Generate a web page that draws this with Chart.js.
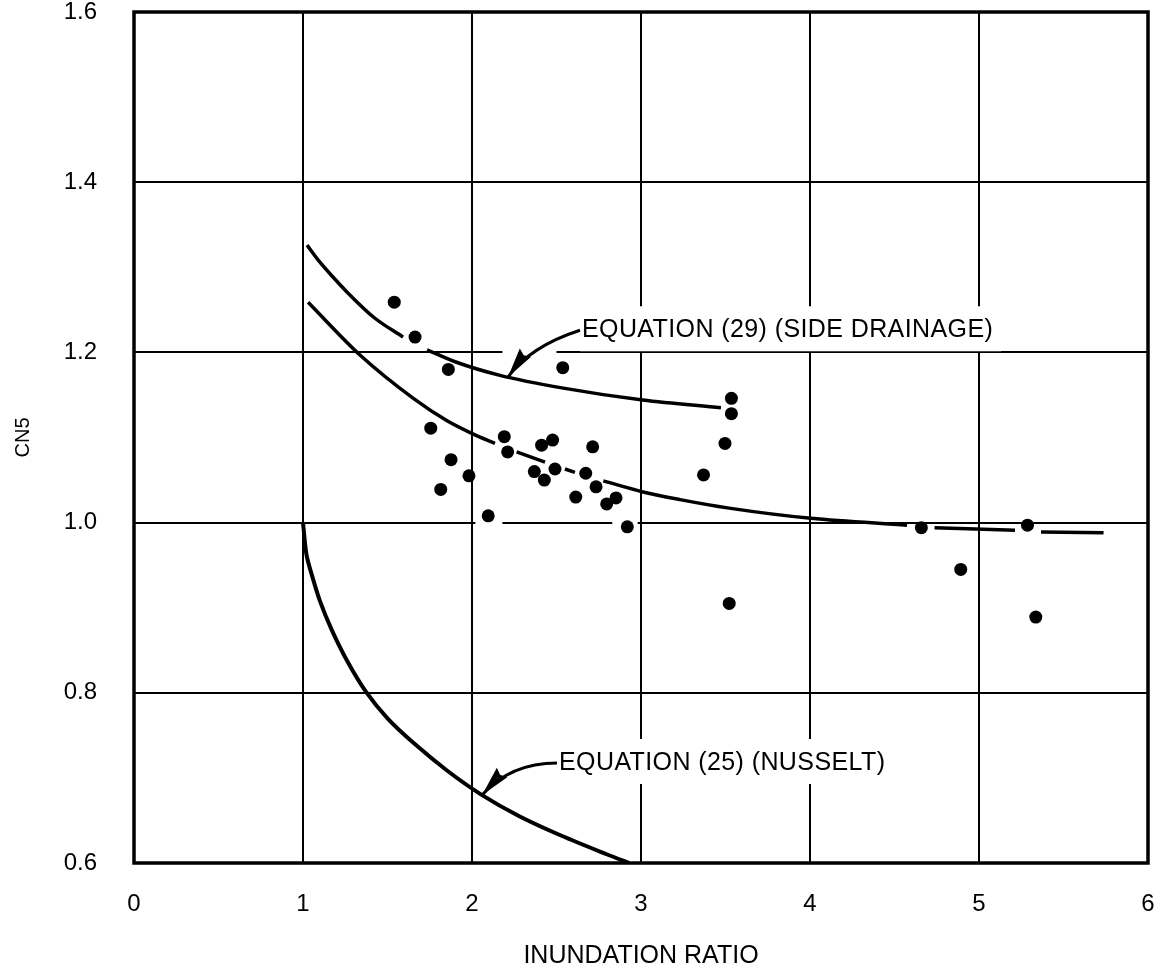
<!DOCTYPE html>
<html>
<head>
<meta charset="utf-8">
<title>CN5 vs inundation ratio</title>
<script src="https://cdn.jsdelivr.net/npm/chart.js@4.4.1/dist/chart.umd.min.js"></script>
<style>
  html, body { margin: 0; padding: 0; background: #fff; }
  #wrap { width: 1157px; height: 972px; }
</style>
</head>
<body>
<div id="wrap"><canvas id="cnChart" width="1157" height="972"></canvas></div>
<script>
// axis ticks
const xTicks = [0, 1, 2, 3, 4, 5, 6];
const yTicks = [0.6, 0.8, 1.0, 1.2, 1.4, 1.6];

// measured data points
const pointX = [1.540, 1.663, 1.860, 2.537, 1.756, 2.191, 2.211, 2.412, 2.477, 2.714, 1.876,
  1.982, 1.815, 2.096, 2.369, 2.428, 2.491, 2.673, 2.734, 2.614, 2.852, 2.797, 2.919,
  3.535, 3.535, 3.497, 3.370, 3.522, 4.659, 5.287, 4.892, 5.336];
const pointY = [1.259, 1.218, 1.180, 1.182, 1.111, 1.101, 1.083, 1.091, 1.097, 1.089, 1.074,
  1.055, 1.039, 1.008, 1.060, 1.050, 1.063, 1.058, 1.042, 1.030, 1.029, 1.022, 0.995,
  1.146, 1.128, 1.093, 1.056, 0.905, 0.994, 0.997, 0.945, 0.889];

// equation (29), side drainage (null = break in the drawn line)
const sideX = [1.024, 1.10, 1.18, 1.26, 1.42, 1.592, 1.66, 1.734, 1.90, 2.166, 2.54, 3.01, 3.473];
const sideY = [1.326, 1.306, 1.288, 1.271, 1.241, 1.218, null, 1.203, 1.189, 1.173, 1.158, 1.144, 1.135];

// unlabelled curve through the data
const fitX = [1.030, 1.337, 1.653, 1.850, 2.008, 2.136, 2.2, 2.264, 2.432, 2.49, 2.550, 2.609, 2.69,
  2.777, 3.012, 3.231, 3.521, 4.006, 4.574, 4.65, 4.737, 5.213, 5.29, 5.367, 5.737];
const fitY = [1.259, 1.197, 1.146, 1.120, 1.104, 1.093, null, 1.083, 1.071, null, 1.063, 1.059, null,
  1.049, 1.036, 1.027, 1.017, 1.005, 0.997, null, 0.994, 0.991, null, 0.989, 0.988];

// equation (25), Nusselt
const nusseltX = [1.0, 1.02, 1.05, 1.10, 1.17, 1.26, 1.37, 1.50, 1.66, 1.85, 2.05, 2.28, 2.53, 2.80, 2.93];
const nusseltY = [1.0, 0.963, 0.940, 0.908, 0.874, 0.838, 0.802, 0.770, 0.740, 0.709, 0.681, 0.655, 0.632, 0.610, 0.600];

const FONT = '"Liberation Sans", Arial, Helvetica, sans-serif';

function toXY(xs, ys) {
  return xs.map((x, i) => ({ x: x, y: ys[i] }));
}

// text labels with curved arrows, in data units
const notes = [
  { text: 'EQUATION (29) (SIDE DRAINAGE)', at: [2.639, 1.226], ctrl: [2.343, 1.207], tip: [2.213, 1.171] },
  { text: 'EQUATION (25) (NUSSELT)', at: [2.503, 0.7175], ctrl: [2.228, 0.7175], tip: [2.06, 0.68] }
];

// breaks in the printed grid lines
const gridGaps = [
  { y: 1.2, from: 2.18, to: 2.50 },
  { y: 1.0, from: 2.02, to: 2.18 },
  { y: 1.0, from: 2.83, to: 2.98 }
];

function setTextFont(ctx) {
  ctx.font = '25px ' + FONT;
  ctx.letterSpacing = '0.4px';
  ctx.textAlign = 'left';
  ctx.textBaseline = 'middle';
}

const notesPlugin = {
  id: 'notes',
  beforeDatasetsDraw(chart) {
    const { ctx, scales: { x, y } } = chart;
    ctx.save();
    setTextFont(ctx);
    ctx.fillStyle = '#fff';
    notes.forEach(n => {
      const sx = x.getPixelForValue(n.at[0]), sy = y.getPixelForValue(n.at[1]);
      const w = ctx.measureText(n.text).width;
      ctx.fillRect(sx, sy - 24, w + 10, 45);
    });
    gridGaps.forEach(g => {
      const x0 = x.getPixelForValue(g.from), x1 = x.getPixelForValue(g.to);
      const py = y.getPixelForValue(g.y);
      ctx.fillRect(x0, py - 2, x1 - x0, 4);
    });
    ctx.restore();
  },
  afterDatasetsDraw(chart) {
    const { ctx, scales: { x, y } } = chart;
    ctx.save();
    ctx.strokeStyle = '#000';
    ctx.fillStyle = '#000';
    notes.forEach(n => {
      const sx = x.getPixelForValue(n.at[0]), sy = y.getPixelForValue(n.at[1]);
      const cx = x.getPixelForValue(n.ctrl[0]), cy = y.getPixelForValue(n.ctrl[1]);
      const tx = x.getPixelForValue(n.tip[0]), ty = y.getPixelForValue(n.tip[1]);
      ctx.lineWidth = 3;
      ctx.beginPath();
      ctx.moveTo(sx, sy);
      ctx.quadraticCurveTo(cx, cy, tx, ty);
      ctx.stroke();
      // arrow head
      const dx = tx - cx, dy = ty - cy;
      const len = Math.hypot(dx, dy);
      const ux = dx / len, uy = dy / len;
      const hl = 30, hw = 7;
      ctx.beginPath();
      ctx.moveTo(tx, ty);
      ctx.lineTo(tx - ux * hl - uy * hw, ty - uy * hl + ux * hw);
      ctx.lineTo(tx - ux * hl * 0.9, ty - uy * hl * 0.9);
      ctx.lineTo(tx - ux * hl + uy * hw, ty - uy * hl - ux * hw);
      ctx.closePath();
      ctx.fill();
      setTextFont(ctx);
      ctx.fillText(n.text, sx + 2, sy);
    });
    ctx.restore();
  },
  afterDraw(chart) {
    const { ctx, chartArea: a } = chart;
    ctx.save();
    ctx.strokeStyle = '#000';
    ctx.lineWidth = 3.5;
    ctx.strokeRect(a.left, a.top, a.right - a.left, a.bottom - a.top);
    ctx.restore();
  }
};

new Chart(document.getElementById('cnChart'), {
  type: 'scatter',
  data: {
    datasets: [{
      label: 'Data',
      data: toXY(pointX, pointY),
      backgroundColor: '#000',
      borderColor: '#000',
      pointRadius: 6.5,
      pointBorderWidth: 0
    }, {
      label: 'Equation (29) (side drainage)',
      data: toXY(sideX, sideY),
      showLine: true,
      spanGaps: false,
      borderColor: '#000',
      borderWidth: 3.5,
      pointRadius: 0,
      cubicInterpolationMode: 'monotone'
    }, {
      label: 'Fit',
      data: toXY(fitX, fitY),
      showLine: true,
      spanGaps: false,
      borderColor: '#000',
      borderWidth: 3.5,
      pointRadius: 0,
      cubicInterpolationMode: 'monotone'
    }, {
      label: 'Equation (25) (Nusselt)',
      data: toXY(nusseltX, nusseltY),
      showLine: true,
      borderColor: '#000',
      borderWidth: 4,
      pointRadius: 0,
      tension: 0.3
    }]
  },
  options: {
    responsive: false,
    animation: false,
    layout: { padding: { top: 12, right: 9, bottom: 0, left: 0 } },
    plugins: {
      legend: { display: false },
      tooltip: { enabled: false }
    },
    scales: {
      x: {
        type: 'linear',
        min: 0,
        max: 6,
        afterBuildTicks: s => { s.ticks = xTicks.map(v => ({ value: v })); },
        afterFit: s => {
          s.height = 109;
          s.paddingLeft = 0;
          s.paddingRight = 0;
        },
        grid: { color: '#000', lineWidth: 2, drawTicks: false },
        border: { display: false },
        ticks: {
          color: '#000',
          padding: 29,
          font: { family: FONT, size: 24, lineHeight: 1 },
          callback: v => String(v)
        },
        title: {
          display: true,
          text: 'INUNDATION RATIO',
          color: '#000',
          font: { family: FONT, size: 25, lineHeight: 1 },
          padding: { top: 0, bottom: 3 }
        }
      },
      y: {
        type: 'linear',
        min: 0.6,
        max: 1.6,
        afterBuildTicks: s => { s.ticks = yTicks.map(v => ({ value: v })); },
        afterFit: s => {
          s.width = 134;
          s.paddingTop = 0;
          s.paddingBottom = 0;
        },
        grid: { color: '#000', lineWidth: 2, drawTicks: false },
        border: { display: false },
        ticks: {
          color: '#000',
          padding: 37,
          font: { family: FONT, size: 24, lineHeight: 1 },
          callback: v => v.toFixed(1)
        },
        title: {
          display: true,
          text: 'CN5',
          color: '#000',
          font: { family: FONT, size: 20, lineHeight: 1 },
          padding: { top: 13, bottom: 0 }
        }
      }
    }
  },
  plugins: [notesPlugin]
});
</script>
</body>
</html>
